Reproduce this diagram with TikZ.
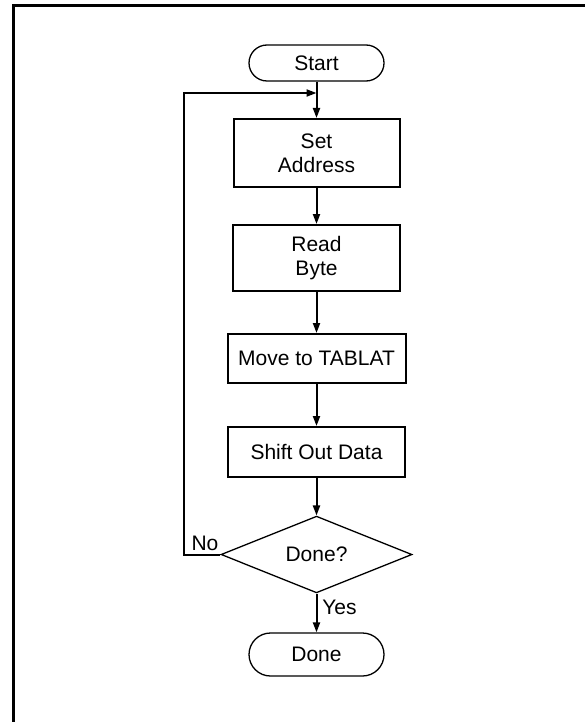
\documentclass[tikz,border=0pt]{standalone}
\usepackage{fontspec}
\setmainfont{Liberation Sans}
\usetikzlibrary{shapes.geometric,shapes.misc,arrows.meta}
\begin{document}
\begin{tikzpicture}[x=1pt,y=-1pt,
  font=\fontsize{21pt}{24pt}\selectfont,
  term/.style={rounded rectangle, draw, line width=1.3pt, minimum width=135pt, inner sep=0pt},
  proc/.style={rectangle, draw, line width=2pt, align=center, inner sep=0pt},
  dec/.style={diamond, draw, line width=1.3pt, minimum width=191pt, minimum height=71pt, inner sep=0pt},
  flow/.style={line width=2pt, -{Triangle[length=10pt,width=7pt]}},
  lbl/.style={inner sep=0pt}]
\useasboundingbox (0,0) rectangle (585,722);
\draw[line width=3pt] (13.5,722) -- (13.5,5.3) -- (585,5.3);

\node[term, minimum height=36pt] (start) at (316.5,63) {Start};
\node[proc, minimum width=166pt, minimum height=68pt] (setaddr) at (316.5,153) {Set\\Address};
\node[proc, minimum width=167pt, minimum height=66pt] (readbyte) at (316.5,258) {Read\\Byte};
\node[proc, minimum width=178pt, minimum height=49pt] (move) at (316.5,358.5) {Move to TABLAT};
\node[proc, minimum width=177pt, minimum height=50pt] (shift) at (316.5,452) {Shift Out Data};
\node[dec] (check) at (316.5,554.5) {Done?};
\node[term, minimum height=43pt] (done) at (316.5,654.5) {Done};

\coordinate (join) at (316.5,93);
\coordinate (loopbot) at (184,554.5);
\coordinate (looptop) at (184,93);

\draw[line width=2pt] (start.south) -- (join);
\draw[flow] (join) -- (setaddr.north);
\draw[flow] (setaddr) -- (readbyte);
\draw[flow] (readbyte) -- (move);
\draw[flow] (move) -- (shift);
\draw[flow] (shift) -- (check.north);
\draw[flow] (check.south) -- (done.north);
\draw[flow] (check.west) -- (loopbot) -- (looptop) -- (join);

\node[lbl] (nolbl) at (205,543) {No};
\node[lbl] (yeslbl) at (339.5,607) {Yes};
\end{tikzpicture}
\end{document}
